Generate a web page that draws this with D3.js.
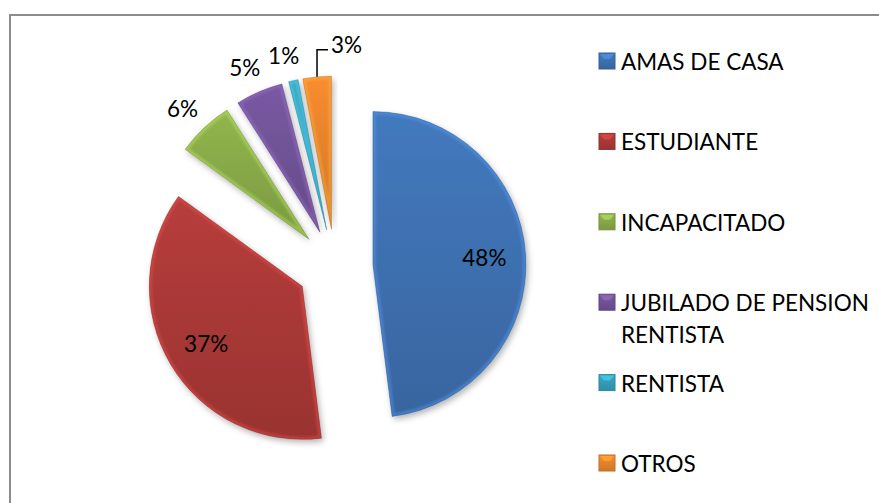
<!DOCTYPE html>
<html>
<head>
<meta charset="utf-8">
<script src="https://cdn.jsdelivr.net/npm/d3@7"></script>
<style>
  html, body { margin: 0; padding: 0; background: #fff; }
  svg { display: block; font-family: Lato, "Open Sans", sans-serif; }
</style>
</head>
<body>
<div id="chart"></div>
<script>
// datos del grafico
const categories = ["AMAS DE CASA", "ESTUDIANTE", "INCAPACITADO", "JUBILADO DE PENSION RENTISTA", "RENTISTA", "OTROS"];
const values = [48, 37, 6, 5, 1, 3];
const pctLabels = ["48%", "37%", "6%", "5%", "1%", "3%"];
const colors = ["#4277bb", "#b43c3a", "#8fb34c", "#77579f", "#3aa6c2", "#f58a2e"];

const width = 879, height = 503;
const cx = 335, cy = 267, radius = 153, explode = 38;
const fontSize = 22.5;

const svg = d3.select("#chart").append("svg")
    .attr("width", width)
    .attr("height", height);

// borde del area del grafico
svg.append("rect")
    .attr("x", 10).attr("y", 15)
    .attr("width", width).attr("height", height)
    .attr("fill", "#fff")
    .attr("stroke", "#8c8c8c")
    .attr("stroke-width", 2);

const defs = svg.append("defs");

const shadow = defs.append("filter").attr("id", "shadow")
    .attr("x", "-20%").attr("y", "-20%").attr("width", "140%").attr("height", "140%");
shadow.append("feDropShadow")
    .attr("dx", 2).attr("dy", 3).attr("stdDeviation", 3)
    .attr("flood-color", "#000").attr("flood-opacity", 0.3);

const soft = defs.append("filter").attr("id", "soft");
soft.append("feGaussianBlur").attr("stdDeviation", 1.2);

// degradados por color
colors.forEach((c, i) => {
    const g = defs.append("linearGradient").attr("id", "grad" + i)
        .attr("x1", 0).attr("y1", 0).attr("x2", 0).attr("y2", 1);
    g.append("stop").attr("offset", "0%").attr("stop-color", d3.color(c).brighter(0.05));
    g.append("stop").attr("offset", "100%").attr("stop-color", d3.color(c).darker(0.45));
});

const pie = d3.pie().sort(null).value(d => d)(values);
const arc = d3.arc().innerRadius(0).outerRadius(radius);

const mid = d => (d.startAngle + d.endAngle) / 2;
const unit = d => [Math.sin(mid(d)), -Math.cos(mid(d))];

const slices = svg.selectAll("g.slice")
    .data(pie)
    .enter()
    .append("g")
    .attr("class", "slice")
    .attr("transform", d => {
        const u = unit(d);
        return "translate(" + (cx + explode * u[0]) + "," + (cy + explode * u[1]) + ")";
    });

slices.append("clipPath")
    .attr("id", (d, i) => "clip" + i)
    .append("path")
    .attr("d", arc);

slices.append("path")
    .attr("d", arc)
    .attr("fill", (d, i) => "url(#grad" + i + ")")
    .attr("filter", "url(#shadow)");

// bisel: borde claro interior
slices.append("g")
    .attr("clip-path", (d, i) => "url(#clip" + i + ")")
    .append("path")
    .attr("d", arc)
    .attr("fill", "none")
    .attr("stroke", (d, i) => d3.color(colors[i]).brighter(0.8))
    .attr("stroke-opacity", 0.4)
    .attr("stroke-width", 6)
    .attr("filter", "url(#soft)");

slices.append("path")
    .attr("d", arc)
    .attr("fill", "none")
    .attr("stroke", (d, i) => d3.color(colors[i]).darker(0.9))
    .attr("stroke-opacity", 0.5)
    .attr("stroke-width", 0.8);

// etiquetas de porcentaje
slices.each(function(d, i) {
    const g = d3.select(this);
    const u = unit(d);
    const frac = (d.endAngle - d.startAngle) / (2 * Math.PI);
    if (frac > 0.2) {
        const lr = radius * 0.73;
        g.append("text")
            .attr("x", lr * u[0]).attr("y", lr * u[1])
            .attr("text-anchor", "middle")
            .attr("dominant-baseline", "central")
            .attr("font-size", fontSize)
            .attr("fill", "#000")
            .text(pctLabels[i]);
    } else if (categories[i] === "OTROS") {
        const px = radius * u[0], py = radius * u[1];
        g.append("polyline")
            .attr("points", [[px, py], [px, py - 27], [px + 11, py - 27]].map(p => p.join(",")).join(" "))
            .attr("fill", "none")
            .attr("stroke", "#000")
            .attr("stroke-width", 1.5);
        g.append("text")
            .attr("x", px + 14).attr("y", py - 32)
            .attr("dominant-baseline", "central")
            .attr("font-size", fontSize)
            .attr("fill", "#000")
            .text(pctLabels[i]);
    } else {
        const lr = radius + 26;
        g.append("text")
            .attr("x", lr * u[0] - 4).attr("y", lr * u[1])
            .attr("text-anchor", "middle")
            .attr("dominant-baseline", "central")
            .attr("font-size", fontSize)
            .attr("fill", "#000")
            .text(pctLabels[i]);
    }
});

// leyenda
const legendX = 599, legendY = 61, legendStep = 80.4, maxText = 250;
const legend = svg.selectAll("g.legend")
    .data(categories)
    .enter()
    .append("g")
    .attr("class", "legend")
    .attr("transform", (d, i) => "translate(" + legendX + "," + (legendY + i * legendStep) + ")");

legend.append("rect")
    .attr("x", 0).attr("y", -8)
    .attr("width", 16).attr("height", 16)
    .attr("fill", (d, i) => "url(#grad" + i + ")")
    .attr("stroke", (d, i) => d3.color(colors[i]).darker(0.6))
    .attr("stroke-width", 1);

legend.append("path")
    .attr("d", "M1,-7 L15,-7 L11,-2 L5,-2 Z")
    .attr("fill", (d, i) => d3.color(colors[i]).brighter(0.6))
    .attr("opacity", 0.7);

legend.each(function(name) {
    const g = d3.select(this);
    const text = g.append("text")
        .attr("x", 22).attr("y", 0)
        .attr("dominant-baseline", "central")
        .attr("font-size", fontSize)
        .attr("fill", "#000");
    const words = name.split(" ");
    let line = [];
    let tspan = text.append("tspan").attr("x", 22).attr("dy", 0);
    words.forEach(w => {
        line.push(w);
        tspan.text(line.join(" "));
        if (tspan.node().getComputedTextLength() > maxText && line.length > 1) {
            line.pop();
            tspan.text(line.join(" "));
            line = [w];
            tspan = text.append("tspan").attr("x", 22).attr("dy", 32).text(w);
        }
    });
});
</script>
</body>
</html>
